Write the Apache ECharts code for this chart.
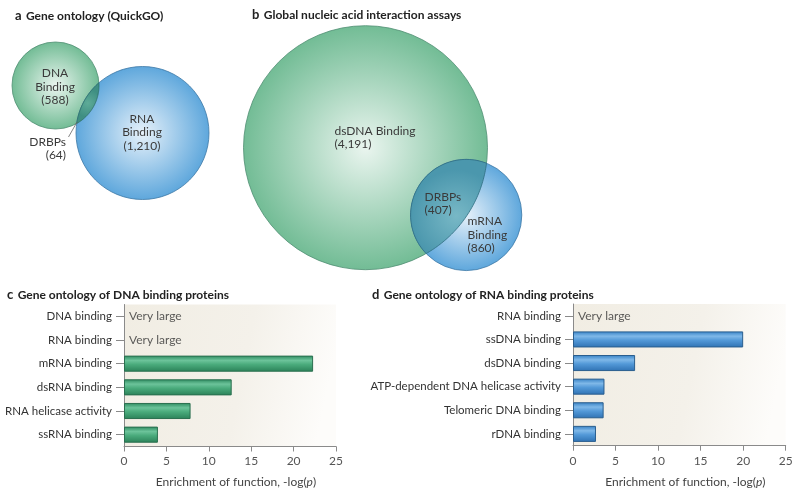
<!DOCTYPE html>
<html><head><meta charset="utf-8">
<script src="https://cdn.jsdelivr.net/npm/echarts@6/dist/echarts.min.js"></script>
<style>html,body{margin:0;padding:0;background:#fff}#c{width:800px;height:494px}</style>
</head><body><div id="c"></div>
<script>
// ---------- Panel a: Gene ontology (QuickGO) ----------
const vennA_labels = ['DNA\nBinding', 'RNA\nBinding', 'DRBPs'];
const vennA_counts = [588, 1210, 64];
// circle layout in panel units: [cx, cy, r]
const vennA_circles = [[55.5, 85.5, 43.5], [142.5, 133, 66.5]];
const vennA_labelPos = [[55, 87, 'center'], [142, 132.5, 'center'], [66, 148.5, 'right']];
const vennA_leader = [[77, 122], [68.5, 137]];

// ---------- Panel b: Global nucleic acid interaction assays ----------
const vennB_labels = ['dsDNA Binding', 'mRNA\nBinding', 'DRBPs'];
const vennB_counts = [4191, 860, 407];
const vennB_circles = [[125.5, 147.7, 122], [226.2, 215, 55.6]];
const vennB_labelPos = [[94.5, 137.5, 'left'], [227.5, 235, 'left'], [184.5, 203.5, 'left']];

// ---------- Panel c: Gene ontology of DNA binding proteins ----------
const catsC = ['DNA binding', 'RNA binding', 'mRNA binding', 'dsRNA binding', 'RNA helicase activity', 'ssRNA binding'];
const valsC = [null, null, 22.3, 12.7, 7.85, 4.0];
const veryLargeC = [true, true, false, false, false, false];

// ---------- Panel d: Gene ontology of RNA binding proteins ----------
const catsD = ['RNA binding', 'ssDNA binding', 'dsDNA binding', 'ATP-dependent DNA helicase activity', 'Telomeric DNA binding', 'rDNA binding'];
const valsD = [null, 20.0, 7.3, 3.7, 3.6, 2.7];
const veryLargeD = [true, false, false, false, false, false];

const xMin = 0, xMax = 25, xStep = 5;
const veryLargeText = 'Very large';

const FONT = 'Lato, "Open Sans", sans-serif';
const fmt = n => n.toLocaleString('en-US');

const green = {
  fill: {type: 'radial', x: 0.5, y: 0.5, r: 0.5, colorStops: [{offset: 0, color: '#eaf5ef'}, {offset: 1, color: '#72bc95'}]},
  stroke: '#4f8e72'
};
const blue = {
  fill: {type: 'radial', x: 0.5, y: 0.5, r: 0.5, colorStops: [{offset: 0, color: '#e6f1fa'}, {offset: 1, color: '#5ea7dc'}]},
  stroke: '#3e79a6'
};
const lensA = {fill: {type: 'radial', x: 0.5, y: 0.5, r: 0.6, colorStops: [{offset: 0, color: '#5eab98'}, {offset: 1, color: '#3f8f82'}]}, stroke: '#2f6e66'};
const lensB = {fill: {type: 'radial', x: 0.6, y: 0.6, r: 0.6, colorStops: [{offset: 0, color: '#78b8c6'}, {offset: 1, color: '#4b97ad'}]}, stroke: '#2f6d80'};

function circleSeries(gridIdx, circles, styles) {
  return {
    type: 'custom', xAxisIndex: gridIdx, yAxisIndex: gridIdx, clip: false, silent: true,
    data: circles.map((c, i) => [c[0], c[1], c[2], i]),
    renderItem: (params, api) => {
      const p = api.coord([api.value(0), api.value(1)]);
      const r = api.size([api.value(2), 0])[0];
      const st = styles[api.value(3)];
      return {type: 'circle', shape: {cx: p[0], cy: p[1], r: r},
        style: {fill: st.fill, stroke: st.stroke, lineWidth: 0.8}};
    }
  };
}
function lensSeries(gridIdx, circles, st) {
  const c1 = circles[0], c2 = circles[1];
  return {
    type: 'custom', xAxisIndex: gridIdx, yAxisIndex: gridIdx, clip: false, silent: true,
    data: [[c1[0], c1[1], c1[2], c2[0], c2[1], c2[2]]],
    renderItem: (params, api) => {
      const p1 = api.coord([api.value(0), api.value(1)]);
      const r1 = api.size([api.value(2), 0])[0];
      const p2 = api.coord([api.value(3), api.value(4)]);
      const r2 = api.size([api.value(5), 0])[0];
      const dx = p2[0] - p1[0], dy = p2[1] - p1[1];
      const d = Math.sqrt(dx * dx + dy * dy);
      const a = (r1 * r1 - r2 * r2 + d * d) / (2 * d);
      const h = Math.sqrt(Math.max(0, r1 * r1 - a * a));
      const th = Math.atan2(dy, dx);
      const a1 = Math.atan2(h, a), a2 = Math.atan2(h, d - a);
      const pts = [];
      const N = 60;
      for (let i = 0; i <= N; i++) {
        const t = th - a1 + 2 * a1 * i / N;
        pts.push([p1[0] + r1 * Math.cos(t), p1[1] + r1 * Math.sin(t)]);
      }
      for (let i = 0; i <= N; i++) {
        const t = th + Math.PI - a2 + 2 * a2 * i / N;
        pts.push([p2[0] + r2 * Math.cos(t), p2[1] + r2 * Math.sin(t)]);
      }
      return {type: 'polygon', shape: {points: pts}, style: {fill: st.fill, stroke: st.stroke, lineWidth: 0.8}};
    }
  };
}
function vennLabelSeries(gridIdx, labels, counts, pos) {
  return {
    type: 'custom', xAxisIndex: gridIdx, yAxisIndex: gridIdx, clip: false, silent: true,
    data: pos.map((p, i) => [p[0], p[1], i]),
    renderItem: (params, api) => {
      const i = api.value(2);
      const q = api.coord([api.value(0), api.value(1)]);
      return {type: 'text', x: q[0], y: q[1],
        style: {text: labels[i] + '\n(' + fmt(counts[i]) + ')', fill: '#3a3a3a',
          font: '12px ' + FONT, align: pos[i][2], verticalAlign: 'middle', lineHeight: 13.5}};
    }
  };
}

const titleStyle = {
  rich: {
    l: {fontFamily: FONT, fontWeight: 'bold', fontSize: 13, color: '#222'},
    t: {fontFamily: FONT, fontWeight: 'bold', fontSize: 12, color: '#222'}
  }
};
function mkTitle(letter, text, left, top) {
  return {text: '{l|' + letter + '} {t|' + text + '}', left: left, top: top, padding: 0, textStyle: titleStyle};
}

const bgGrad = {type: 'linear', x: 0, y: 0, x2: 1, y2: 0.3, colorStops: [
  {offset: 0, color: '#f1ede3'}, {offset: 0.6, color: '#f4f1ea'}, {offset: 1, color: '#fdfcfa'}]};

function valueAxis(gridIdx) {
  return {
    type: 'value', gridIndex: gridIdx, min: xMin, max: xMax, interval: xStep,
    axisLine: {show: true, lineStyle: {color: '#8a8a8a', width: 1}},
    axisTick: {show: true, length: 5, lineStyle: {color: '#8a8a8a'}},
    axisLabel: {color: '#555', fontSize: 12, fontFamily: FONT, margin: 9},
    splitLine: {show: false},
    name: '{a|Enrichment of function, -log(}{i|p}{a|)}',
    nameLocation: 'middle', nameGap: 30,
    nameTextStyle: {padding: [0, 0, 0, 12], rich: {
      a: {fontSize: 12, fontFamily: FONT, color: '#444'},
      i: {fontSize: 12, fontFamily: FONT, color: '#444', fontStyle: 'italic'}
    }}
  };
}
function catAxis(gridIdx, cats) {
  return {
    type: 'category', gridIndex: gridIdx, data: cats, inverse: true,
    axisLine: {show: true, lineStyle: {color: '#8a8a8a', width: 1}},
    axisTick: {show: true, alignWithLabel: true, length: 8, lineStyle: {color: '#8a8a8a'}},
    axisLabel: {color: '#333', fontSize: 11.5, fontFamily: FONT, margin: 12}
  };
}
function barSeries(gridIdx, vals, grad, border) {
  return {
    type: 'bar', xAxisIndex: gridIdx, yAxisIndex: gridIdx, barWidth: '68%', silent: true,
    data: vals,
    itemStyle: {color: grad, borderColor: border, borderWidth: 1}
  };
}
function veryLargeSeries(gridIdx, cats, flags) {
  return {
    type: 'scatter', xAxisIndex: gridIdx, yAxisIndex: gridIdx, symbolSize: 0, silent: true,
    data: cats.map((c, i) => flags[i] ? [xMin, c] : null).filter(d => d),
    label: {show: true, position: 'right', distance: 5, formatter: veryLargeText,
      color: '#333', fontSize: 12, fontFamily: FONT}
  };
}
const greenBar = {type: 'linear', x: 0, y: 0, x2: 0, y2: 1, colorStops: [
  {offset: 0, color: '#2d8a5f'}, {offset: 0.3, color: '#6cc39a'}, {offset: 0.55, color: '#4aab7c'}, {offset: 1, color: '#2b8158'}]};
const blueBar = {type: 'linear', x: 0, y: 0, x2: 0, y2: 1, colorStops: [
  {offset: 0, color: '#3580c4'}, {offset: 0.3, color: '#7fb8e8'}, {offset: 0.55, color: '#5399d8'}, {offset: 1, color: '#2f72b3'}]};

const chart = echarts.init(document.getElementById('c'), null, {renderer: 'canvas'});
chart.setOption({
  animation: false,
  backgroundColor: '#fff',
  textStyle: {fontFamily: FONT},
  title: [
    mkTitle('a', 'Gene ontology (QuickGO)', 15, 7),
    mkTitle('b', 'Global nucleic acid interaction assays', 252, 6),
    mkTitle('c', 'Gene ontology of DNA binding proteins', 7, 286),
    mkTitle('d', 'Gene ontology of RNA binding proteins', 372, 286)
  ],
  grid: [
    {left: 0, top: 0, width: 260, height: 210},
    {left: 240, top: 0, width: 320, height: 280},
    {left: 124, top: 304.5, width: 212, height: 142, show: true, backgroundColor: bgGrad, borderWidth: 0},
    {left: 573, top: 304, width: 212.7, height: 141.7, show: true, backgroundColor: bgGrad, borderWidth: 0}
  ],
  xAxis: [
    {type: 'value', gridIndex: 0, min: 0, max: 260, show: false},
    {type: 'value', gridIndex: 1, min: 0, max: 320, show: false},
    valueAxis(2), valueAxis(3)
  ],
  yAxis: [
    {type: 'value', gridIndex: 0, min: 0, max: 210, inverse: true, show: false},
    {type: 'value', gridIndex: 1, min: 0, max: 280, inverse: true, show: false},
    catAxis(2, catsC), catAxis(3, catsD)
  ],
  series: [
    circleSeries(0, vennA_circles, [green, blue]),
    lensSeries(0, vennA_circles, lensA),
    {
      type: 'lines', coordinateSystem: 'cartesian2d', xAxisIndex: 0, yAxisIndex: 0, silent: true,
      data: [{coords: vennA_leader}], lineStyle: {color: '#666', width: 0.8, opacity: 1}
    },
    vennLabelSeries(0, vennA_labels, vennA_counts, vennA_labelPos),
    circleSeries(1, vennB_circles, [green, blue]),
    lensSeries(1, vennB_circles, lensB),
    vennLabelSeries(1, vennB_labels, vennB_counts, vennB_labelPos),
    barSeries(2, valsC, greenBar, '#2a6f4f'),
    veryLargeSeries(2, catsC, veryLargeC),
    barSeries(3, valsD, blueBar, '#2a5e8e'),
    veryLargeSeries(3, catsD, veryLargeD)
  ]
});
</script></body></html>
